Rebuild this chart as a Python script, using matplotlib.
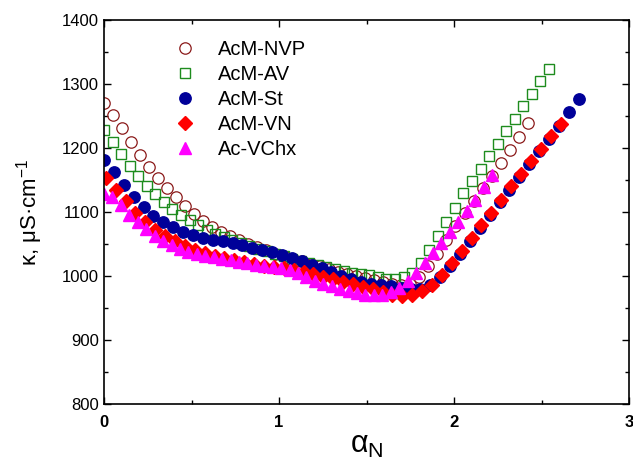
import matplotlib
matplotlib.use("Agg")
import matplotlib.pyplot as plt
from matplotlib.ticker import MultipleLocator

# AcM-NVP (open circles)
x_nvp = [0.0, 0.0515, 0.103, 0.1545, 0.206, 0.2575, 0.309, 0.3605, 0.412, 0.4635,
         0.515, 0.5665, 0.618, 0.6695, 0.721, 0.7725, 0.824, 0.8755, 0.927, 0.9785,
         1.03, 1.0815, 1.133, 1.1845, 1.236, 1.2875, 1.339, 1.3905, 1.442, 1.4935,
         1.545, 1.5965, 1.648, 1.6995, 1.751, 1.8025, 1.854, 1.9055, 1.957, 2.0085,
         2.06, 2.1115, 2.163, 2.2145, 2.266, 2.3175, 2.369, 2.4205]
y_nvp = [1270, 1251, 1231, 1209, 1189, 1171, 1153, 1137, 1123, 1109,
         1097, 1086, 1077, 1069, 1062, 1056, 1050, 1045, 1040, 1035,
         1031, 1027, 1023, 1019, 1015, 1011, 1007, 1003, 1000, 997,
         994, 991, 988, 986, 987, 998, 1015, 1035, 1056, 1078,
         1098, 1118, 1138, 1157, 1177, 1197, 1218, 1239]

# AcM-AV (open squares)
x_av = [0.0, 0.049, 0.098, 0.147, 0.196, 0.2445, 0.293, 0.342, 0.391, 0.44,
        0.489, 0.538, 0.587, 0.636, 0.685, 0.7335, 0.782, 0.831, 0.88, 0.929,
        0.978, 1.027, 1.076, 1.125, 1.174, 1.2225, 1.271, 1.32, 1.369, 1.418,
        1.467, 1.516, 1.565, 1.614, 1.663, 1.7115, 1.76, 1.809, 1.858, 1.907,
        1.956, 2.005, 2.054, 2.103, 2.152, 2.2005, 2.249, 2.298, 2.347, 2.396,
        2.445, 2.494, 2.543]
y_av = [1228, 1209, 1190, 1172, 1156, 1141, 1128, 1116, 1105, 1095,
        1087, 1079, 1072, 1066, 1061, 1056, 1051, 1047, 1043, 1039,
        1035, 1031, 1027, 1024, 1021, 1018, 1014, 1011, 1008, 1005,
        1003, 1001, 998, 996, 995, 998, 1005, 1021, 1041, 1063,
        1085, 1107, 1130, 1149, 1167, 1188, 1207, 1227, 1246, 1266,
        1285, 1305, 1323]

# AcM-St (filled circles)
x_st = [0.0, 0.0565, 0.113, 0.1695, 0.226, 0.2825, 0.339, 0.3955, 0.452, 0.5085,
        0.565, 0.6215, 0.678, 0.7345, 0.791, 0.8475, 0.904, 0.9605, 1.017, 1.0735,
        1.13, 1.1865, 1.243, 1.2995, 1.356, 1.4125, 1.469, 1.5255, 1.582, 1.6385,
        1.695, 1.7515, 1.808, 1.8645, 1.921, 1.9775, 2.034, 2.0905, 2.147, 2.2035,
        2.26, 2.3165, 2.373, 2.4295, 2.486, 2.5425, 2.599, 2.6555, 2.712]
y_st = [1182, 1163, 1143, 1124, 1108, 1094, 1084, 1076, 1069, 1064,
        1060, 1056, 1054, 1051, 1048, 1044, 1041, 1037, 1033, 1028,
        1023, 1018, 1012, 1006, 1000, 995, 991, 988, 986, 984,
        982, 979, 980, 986, 998, 1016, 1035, 1055, 1075, 1095,
        1115, 1135, 1155, 1175, 1195, 1214, 1234, 1256, 1276]

# AcM-VN (diamonds)
x_vn = [0.01, 0.0665, 0.123, 0.1795, 0.236, 0.2925, 0.349, 0.4055, 0.462, 0.5185,
        0.575, 0.6315, 0.688, 0.7445, 0.801, 0.8575, 0.914, 0.9705, 1.027, 1.0835,
        1.14, 1.1965, 1.253, 1.3095, 1.366, 1.4225, 1.479, 1.5355, 1.592, 1.6485,
        1.705, 1.7615, 1.818, 1.8745, 1.931, 1.9875, 2.044, 2.1005, 2.157, 2.2135,
        2.27, 2.3265, 2.383, 2.4395, 2.496, 2.5525, 2.609]
y_vn = [1153, 1135, 1117, 1099, 1085, 1072, 1062, 1054, 1047, 1041,
        1036, 1032, 1028, 1025, 1022, 1019, 1016, 1014, 1012, 1009,
        1006, 1003, 999, 995, 991, 987, 983, 979, 975, 971,
        969, 970, 976, 986, 1001, 1020, 1039, 1059, 1079, 1099,
        1119, 1140, 1159, 1179, 1199, 1219, 1238]

# Ac-VChx (triangles)
x_vchx = [0.0, 0.048, 0.096, 0.145, 0.193, 0.241, 0.289, 0.337, 0.386, 0.434,
          0.482, 0.53, 0.578, 0.627, 0.675, 0.723, 0.771, 0.819, 0.868, 0.916,
          0.964, 1.012, 1.06, 1.109, 1.157, 1.205, 1.253, 1.301, 1.35, 1.398,
          1.446, 1.494, 1.542, 1.591, 1.639, 1.687, 1.735, 1.783, 1.832, 1.88,
          1.928, 1.976, 2.024, 2.072, 2.121, 2.169, 2.217]
y_vchx = [1128, 1124, 1111, 1096, 1084, 1073, 1063, 1055, 1048, 1042,
          1038, 1035, 1032, 1029, 1027, 1025, 1022, 1020, 1018, 1016,
          1014, 1012, 1009, 1005, 999, 993, 988, 984, 980, 976,
          973, 971, 970, 971, 975, 981, 992, 1004, 1020, 1036,
          1052, 1069, 1085, 1101, 1119, 1139, 1158]

plt.rcParams['font.family'] = ['Liberation Sans', 'DejaVu Sans']

fig = plt.figure(figsize=(6.33, 4.66), dpi=100)
ax = fig.add_axes([0.1643, 0.133, 0.8294, 0.824])

ms = 8.2
ax.plot(x_nvp, y_nvp, 'o', ls='none', ms=ms, mfc='none', mec='#8B1A1A', mew=0.9, label='AcM-NVP')
ax.plot(x_av, y_av, 's', ls='none', ms=ms - 0.5, mfc='none', mec='#1E8C1E', mew=1.0, label='AcM-AV')
ax.plot(x_st, y_st, 'o', ls='none', ms=ms, color='#000099', mec='#000099', label='AcM-St')
ax.plot(x_vn, y_vn, 'D', ls='none', ms=ms - 1.2, color='#FF0000', mec='#FF0000', label='AcM-VN')
ax.plot(x_vchx, y_vchx, '^', ls='none', ms=ms + 0.5, color='#FF00FF', mec='#FF00FF', label='Ac-VChx')

ax.set_xlim(0, 3)
ax.set_ylim(800, 1400)
ax.xaxis.set_major_locator(MultipleLocator(1))
ax.xaxis.set_minor_locator(MultipleLocator(0.5))
ax.yaxis.set_major_locator(MultipleLocator(100))
ax.yaxis.set_minor_locator(MultipleLocator(50))
ax.tick_params(which='both', direction='in', top=True, right=True, width=1)
ax.tick_params(which='major', length=5, labelsize=12)
ax.tick_params(axis='x', which='major', pad=8)
ax.tick_params(which='minor', length=3)
for lbl in ax.get_xticklabels():
    lbl.set_fontweight('bold')
for sp in ax.spines.values():
    sp.set_linewidth(1.2)

ax.set_xlabel(r'α$_{\mathregular{N}}$', fontsize=22, labelpad=0)
ax.set_ylabel(r'κ, μS·cm$^{\mathregular{-1}}$', fontsize=16, labelpad=12)

ax.legend(loc='upper left', bbox_to_anchor=(0.09, 0.985), frameon=False,
          fontsize=14.5, handletextpad=0.6, labelspacing=0.3, borderaxespad=0.3)

fig.savefig('out.png', dpi=100)
